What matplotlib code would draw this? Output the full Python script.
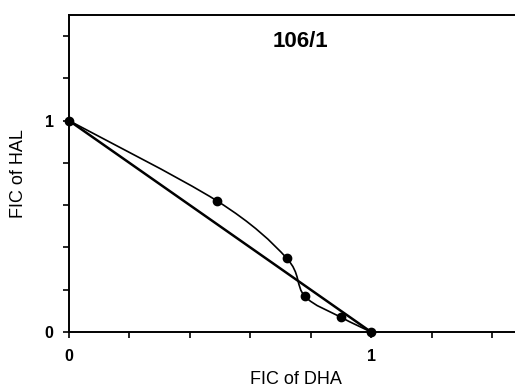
import numpy as np
import matplotlib
matplotlib.use("Agg")
import matplotlib.pyplot as plt
from matplotlib.path import Path
from matplotlib.patches import PathPatch
from matplotlib.ticker import MultipleLocator, FixedLocator

# isobologram data
fic_dha = [0.0, 0.49, 0.72, 0.78, 0.90, 1.0]
fic_hal = [1.0, 0.62, 0.35, 0.17, 0.07, 0.0]
additive_x = [0.0, 1.0]
additive_y = [1.0, 0.0]
title = "106/1"

plt.rcParams['font.family'] = ['Liberation Sans', 'DejaVu Sans']


def smooth_path(xs, ys, tension=1.0 / 6):
    """Catmull-Rom spline through the points, as cubic bezier segments"""
    pts = np.column_stack([xs, ys])
    verts = [pts[0]]
    codes = [Path.MOVETO]
    n = len(pts)
    for i in range(n - 1):
        p0 = pts[max(i - 1, 0)]
        p1 = pts[i]
        p2 = pts[i + 1]
        p3 = pts[min(i + 2, n - 1)]
        c1 = p1 + (p2 - p0) * tension
        c2 = p2 - (p3 - p1) * tension
        verts += [c1, c2, p2]
        codes += [Path.CURVE4] * 3
    return Path(verts, codes)


fig = plt.figure(figsize=(5.15, 3.92), dpi=100)
ax = fig.add_axes([0.134, 0.153, 0.880, 0.809])

# additive line
ax.plot(additive_x, additive_y, color='black', lw=1.8, zorder=2)

# fitted curve through measured points
patch = PathPatch(smooth_path(fic_dha, fic_hal), facecolor='none',
                  edgecolor='black', lw=1.2, zorder=3)
ax.add_patch(patch)
ax.plot(fic_dha, fic_hal, 'o', color='black', ms=6, zorder=4, clip_on=False)

ax.set_xlim(0, 1.5)
ax.set_ylim(0, 1.5)

ax.xaxis.set_major_locator(FixedLocator([0, 1]))
ax.yaxis.set_major_locator(FixedLocator([0, 1]))
ax.xaxis.set_minor_locator(MultipleLocator(0.2))
ax.yaxis.set_minor_locator(MultipleLocator(0.2))
ax.tick_params(which='both', direction='out', length=4, width=1.2, color='black')
ax.tick_params(axis='x', which='major', labelsize=11.5, pad=8)
ax.tick_params(axis='y', which='major', labelsize=11.5, pad=7)
for lab in ax.get_xticklabels() + ax.get_yticklabels():
    lab.set_fontweight('bold')

for sp in ax.spines.values():
    sp.set_linewidth(1.4)

ax.set_xlabel("FIC of DHA", fontsize=13, labelpad=5)
ax.set_ylabel("FIC of HAL", fontsize=13, labelpad=13)
ax.text(0.765, 1.374, title, fontsize=16, fontweight='bold',
        ha='center', va='center')

fig.savefig("out.png", dpi=100)
